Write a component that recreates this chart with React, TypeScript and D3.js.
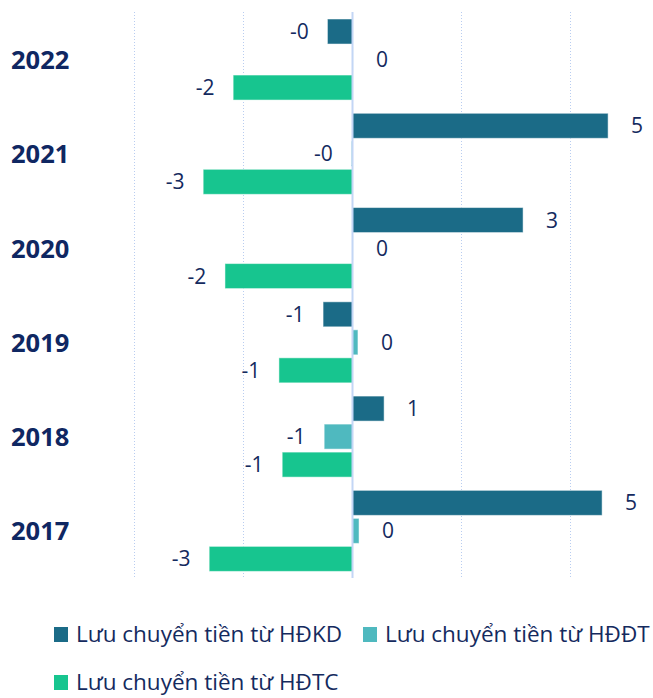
import React from "react";
import * as d3 from "d3";

// Years, top to bottom
const years = ["2022", "2021", "2020", "2019", "2018", "2017"];

// Series (billions)
const hdkd = [-0.46, 4.69, 3.13, -0.54, 0.58, 4.58];
const hddt = [0.01, -0.02, 0.01, 0.1, -0.52, 0.12];
const hdtc = [-2.19, -2.74, -2.34, -1.35, -1.29, -2.63];

const seriesNames = [
  "Lưu chuyển tiền từ HĐKD",
  "Lưu chuyển tiền từ HĐĐT",
  "Lưu chuyển tiền từ HĐTC",
];
const seriesColors = ["#1b6b87", "#4fb9bf", "#17c58f"];

const xTicks = [-4, -2, 0, 2, 4];

const width = 653;
const height = 698;
const font = "'Open Sans', 'Noto Sans', sans-serif";
const textColor = "#142a5e";

const fmt = (v: number) =>
  v < 0 ? "-" + Math.round(-v) : String(Math.round(v));

const App = () => {
  const seriesData = [hdkd, hddt, hdtc];

  const x = d3.scaleLinear().domain([-4, 4]).range([134.5, 570.5]);

  const y0 = d3.scaleBand().domain(years).range([12.4, 578]);

  const y1 = d3
    .scaleBand<number>()
    .domain([0, 1, 2])
    .range([0, y0.bandwidth()])
    .paddingInner(0.107)
    .paddingOuter(0.236);

  const plotTop = 12;
  const plotBottom = 578;

  return (
    <svg
      width={width}
      height={height}
      style={{ position: "absolute", left: 0, top: 0, fontFamily: font }}
    >
      {/* grid */}
      {xTicks
        .filter((t) => t !== 0)
        .map((t) => (
          <line
            key={t}
            x1={x(t)}
            x2={x(t)}
            y1={plotTop}
            y2={plotBottom}
            stroke="#b9cdf0"
            strokeWidth={1}
            strokeDasharray="1,2"
          />
        ))}

      {/* bars */}
      {years.map((yr, i) => (
        <g key={yr} transform={`translate(0,${y0(yr)})`}>
          {seriesData.map((s, j) => {
            const v = s[i];
            const x0 = x(Math.min(0, v));
            const w = Math.abs(x(v) - x(0));
            const by = y1(j)!;
            const end = x(v);
            const lx = v < 0 ? end - 28 : end + 29;
            return (
              <g key={j}>
                <rect
                  x={x0}
                  y={by}
                  width={w}
                  height={y1.bandwidth()}
                  fill={seriesColors[j]}
                  stroke="#ffffff"
                  strokeOpacity={0.5}
                  strokeWidth={1}
                />
                <text
                  x={lx}
                  y={by + y1.bandwidth() / 2}
                  dy="0.36em"
                  textAnchor="middle"
                  fontSize={21}
                  fill={textColor}
                >
                  {fmt(v)}
                </text>
              </g>
            );
          })}
          <text
            x={11}
            y={y0.bandwidth() / 2 + 9.5}
            fontSize={25.5}
            fontWeight="bold"
            fill="#0f2762"
          >
            {yr}
          </text>
        </g>
      ))}

      {/* zero axis */}
      <line
        x1={x(0)}
        x2={x(0)}
        y1={plotTop}
        y2={plotBottom}
        stroke="#c3d6f5"
        strokeWidth={2}
      />

      {/* legend */}
      {seriesNames.map((name, j) => {
        const pos = [
          [54, 627],
          [363, 627],
          [54, 675],
        ][j];
        return (
          <g key={name} transform={`translate(${pos[0]},${pos[1]})`}>
            <rect width={14} height={15} fill={seriesColors[j]} />
            <text x={22} y={15} fontSize={22.5} fill={textColor}>
              {name}
            </text>
          </g>
        );
      })}
    </svg>
  );
};

export default App;
